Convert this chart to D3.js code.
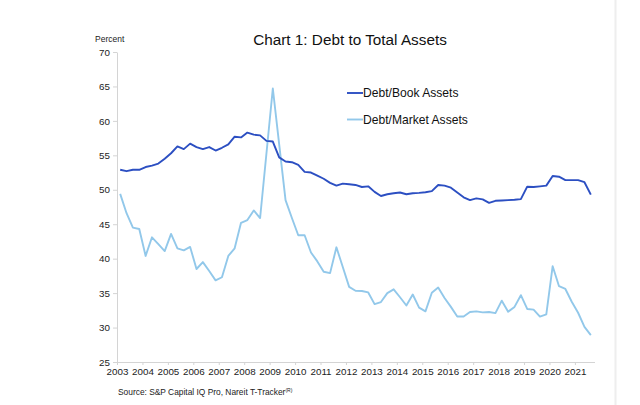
<!DOCTYPE html>
<html><head><meta charset="utf-8">
<script src="https://cdn.jsdelivr.net/npm/d3@7"></script>
<style>
html,body{margin:0;padding:0;background:#fff;}
svg{display:block;font-family:"Liberation Sans",Arial,sans-serif;}
</style></head>
<body><svg id="c" width="640" height="405"></svg>
<script>
const quarters = [
"2003Q1","2003Q2","2003Q3","2003Q4","2004Q1","2004Q2","2004Q3","2004Q4",
"2005Q1","2005Q2","2005Q3","2005Q4","2006Q1","2006Q2","2006Q3","2006Q4",
"2007Q1","2007Q2","2007Q3","2007Q4","2008Q1","2008Q2","2008Q3","2008Q4",
"2009Q1","2009Q2","2009Q3","2009Q4","2010Q1","2010Q2","2010Q3","2010Q4",
"2011Q1","2011Q2","2011Q3","2011Q4","2012Q1","2012Q2","2012Q3","2012Q4",
"2013Q1","2013Q2","2013Q3","2013Q4","2014Q1","2014Q2","2014Q3","2014Q4",
"2015Q1","2015Q2","2015Q3","2015Q4","2016Q1","2016Q2","2016Q3","2016Q4",
"2017Q1","2017Q2","2017Q3","2017Q4","2018Q1","2018Q2","2018Q3","2018Q4",
"2019Q1","2019Q2","2019Q3","2019Q4","2020Q1","2020Q2","2020Q3","2020Q4",
"2021Q1","2021Q2","2021Q3"];

const debtBook = [
52.9,52.7,52.9,52.9,53.3,53.5,53.8,54.5,55.3,56.3,55.9,56.7,56.2,55.9,56.2,55.7,
56.1,56.6,57.7,57.6,58.3,58.0,57.9,57.1,57.0,54.7,54.1,54.0,53.6,52.6,52.5,52.05,
51.6,51.0,50.6,50.9,50.8,50.7,50.4,50.5,49.7,49.1,49.35,49.5,49.6,49.35,49.5,49.55,
49.65,49.8,50.7,50.6,50.3,49.6,48.9,48.5,48.75,48.6,48.1,48.4,48.45,48.5,48.55,48.65,
50.45,50.4,50.5,50.6,52.0,51.9,51.4,51.4,51.4,51.1,49.3];

const debtMarket = [
49.4,46.6,44.5,44.3,40.4,43.1,42.1,41.1,43.6,41.5,41.2,41.7,38.5,39.5,38.2,36.85,
37.3,40.4,41.5,45.2,45.6,47.0,45.9,55.3,64.7,56.6,48.5,45.9,43.4,43.4,40.9,39.6,
38.1,37.9,41.65,38.8,35.9,35.35,35.3,35.1,33.4,33.7,35.0,35.55,34.4,33.2,34.8,32.9,
32.35,35.06,35.8,34.3,33.0,31.6,31.6,32.25,32.35,32.2,32.25,32.1,33.9,32.3,33.0,34.7,
32.7,32.6,31.6,31.9,38.9,36.0,35.6,33.75,32.15,30.1,28.9];

const years = [2003,2004,2005,2006,2007,2008,2009,2010,2011,2012,2013,2014,2015,2016,2017,2018,2019,2020,2021];
const yTicks = [25,30,35,40,45,50,55,60,65,70];
const seriesNames = ["Debt/Book Assets","Debt/Market Assets"];
const colors = ["#2c4fc2","#92c8ea"];

const svg = d3.select("#c");
const x = d3.scaleBand().domain(quarters).range([117,594]).padding(0);
const xYear = d3.scaleLinear().domain([2003, 2003 + quarters.length/4]).range([117,594]);
const y = d3.scaleLinear().domain([25,70]).range([362,52]);

// right border
svg.append("line").attr("x1",615.5).attr("x2",615.5).attr("y1",0).attr("y2",405)
  .attr("stroke","#eeeeee").attr("stroke-width",2);

// y axis
const ya = svg.append("g").attr("transform","translate(117,0)")
  .call(d3.axisLeft(y).tickValues(yTicks).tickSize(4).tickSizeOuter(0).tickPadding(3));
ya.select(".domain").attr("stroke","#d4d4d4");
ya.selectAll(".tick line").attr("stroke","#d4d4d4");
ya.selectAll(".tick text").attr("font-size","9.8px").attr("fill","#222")
  .attr("font-family","Liberation Sans, Arial, sans-serif");

// x axis
const xa = svg.append("g").attr("transform","translate(0,362)")
  .call(d3.axisBottom(xYear).tickValues(years).tickFormat(d3.format("d")).tickSize(3).tickSizeOuter(0).tickPadding(3));
xa.select(".domain").attr("stroke","#d4d4d4").attr("d","M117,0.5H595");
xa.selectAll(".tick line").attr("stroke","#d4d4d4");
xa.selectAll(".tick text").attr("font-size","9.8px").attr("fill","#222")
  .attr("font-family","Liberation Sans, Arial, sans-serif");

// lines
const line = d3.line().x((d,i)=>x(quarters[i]) + x.bandwidth()/2).y(d=>y(d));
[debtMarket, debtBook].forEach((s,k)=>{
  svg.append("path").datum(s).attr("d",line).attr("fill","none")
    .attr("stroke", k===0?colors[1]:colors[0]).attr("stroke-width",1.9)
    .attr("stroke-linejoin","round");
});

// title
svg.append("text").attr("x",350).attr("y",45).attr("text-anchor","middle")
  .attr("font-size","15.3px").attr("fill","#111").text("Chart 1: Debt to Total Assets");
svg.append("text").attr("x",95).attr("y",42).attr("font-size","8.5px").attr("fill","#222").text("Percent");

// legend
seriesNames.forEach((n,i)=>{
  const ly = 93 + i*26.5;
  svg.append("line").attr("x1",347).attr("x2",363).attr("y1",ly).attr("y2",ly)
    .attr("stroke",colors[i]).attr("stroke-width",1.9);
  svg.append("text").attr("x",363).attr("y",ly+4.3).attr("font-size","12.1px").attr("fill","#111").text(n);
});

// source
const src = svg.append("text").attr("x",118).attr("y",395).attr("font-size","8.4px").attr("fill","#222");
src.append("tspan").text("Source: S&P Capital IQ Pro, Nareit T-Tracker");
src.append("tspan").attr("font-size","5px").attr("dy","-3").text("(R)");
</script></body></html>
